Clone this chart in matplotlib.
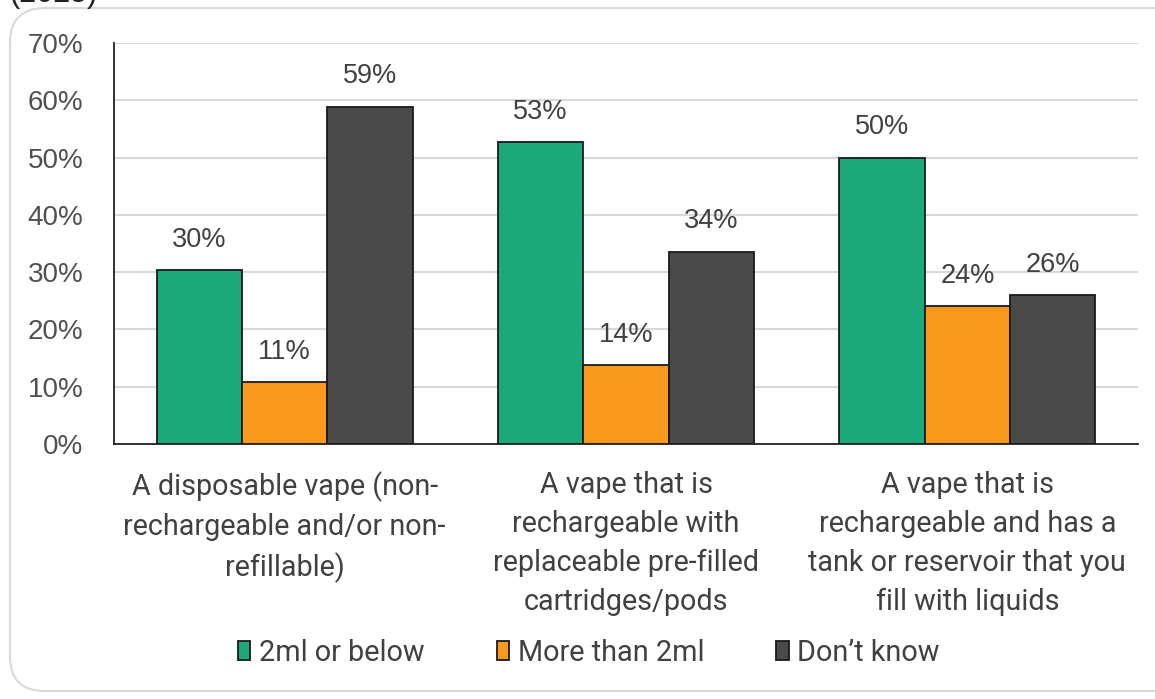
import numpy as np
import matplotlib.pyplot as plt
from matplotlib.patches import FancyBboxPatch

categories = ['A disposable vape (non-\nrechargeable and/or non-\nrefillable)',
              'A vape that is\nrechargeable with\nreplaceable pre-filled\ncartridges/pods',
              'A vape that is\nrechargeable and has a\ntank or reservoir that you\nfill with liquids']
series_names = ['2ml or below', 'More than 2ml', 'Don\u2019t know']
small = [30.3, 52.7, 50.0]
large = [10.8, 13.8, 24.1]
dont_know = [58.9, 33.6, 26.0]
labels_small = ['30%', '53%', '50%']
labels_large = ['11%', '14%', '24%']
labels_dk = ['59%', '34%', '26%']
colors = ['#1ba97a', '#f99a1f', '#4a4a4a']

fig = plt.figure(figsize=(11.55, 6.99), dpi=100)
ax = fig.add_axes([0.0987, 0.3648, 0.8866, 0.5737])

# rounded frame, cut off at the right edge
frame = FancyBboxPatch((10 / 1155, 8 / 699), 1.2, 0.977, boxstyle='round,pad=0,rounding_size=0.03',
                       transform=fig.transFigure, facecolor='none', edgecolor='#d9d9d9',
                       linewidth=1.5, mutation_aspect=1155 / 699)
fig.patches.append(frame)
fig.text(0.008, 0.997, '(2025)', fontsize=22, color='#222222', va='baseline', family='Liberation Sans')

ind = np.arange(3)
width = 0.25
data = [small, large, dont_know]
labs = [labels_small, labels_large, labels_dk]
for i, (vals, lab) in enumerate(zip(data, labs)):
    bars = ax.bar(ind + (i - 1) * width, vals, width, color=colors[i], edgecolor='#1a1a1a',
                  linewidth=1.3, label=series_names[i], zorder=3)
    for b, t in zip(bars, lab):
        ax.text(b.get_x() + b.get_width() / 2, b.get_height() + 3.0, t, ha='center', va='bottom',
                fontsize=19.5, color='#404040', family='Liberation Sans')

ax.set_xlim(-0.5, 2.5)
ax.set_ylim(0, 70)
ax.set_yticks(np.arange(0, 71, 10))
ax.set_yticklabels(['%d%%' % v for v in range(0, 71, 10)], fontsize=20, color='#505050',
                   family='Liberation Sans')
ax.set_xticks(ind)
ax.set_xticklabels(categories, fontsize=20.7, color='#404040', family='Roboto', linespacing=1.5)
ax.tick_params(axis='both', length=0)
ax.tick_params(axis='x', pad=19.5)
ax.tick_params(axis='y', pad=22)
ax.yaxis.grid(True, color='#d9d9d9', linewidth=1.5, zorder=0)
for s in ['top', 'right']:
    ax.spines[s].set_visible(False)
ax.spines['left'].set_color('#222222')
ax.spines['bottom'].set_color('#222222')
ax.spines['left'].set_linewidth(1.3)
ax.spines['bottom'].set_linewidth(1.3)

leg = fig.legend(loc='center', bbox_to_anchor=(0.510, 0.066), ncol=3, frameon=False,
                 prop={'family': 'Roboto', 'size': 20.8}, handlelength=0.42, handleheight=0.62,
                 handletextpad=0.3, columnspacing=2.5)
for t in leg.get_texts():
    t.set_color('#404040')

fig.savefig('out.png', dpi=100)
